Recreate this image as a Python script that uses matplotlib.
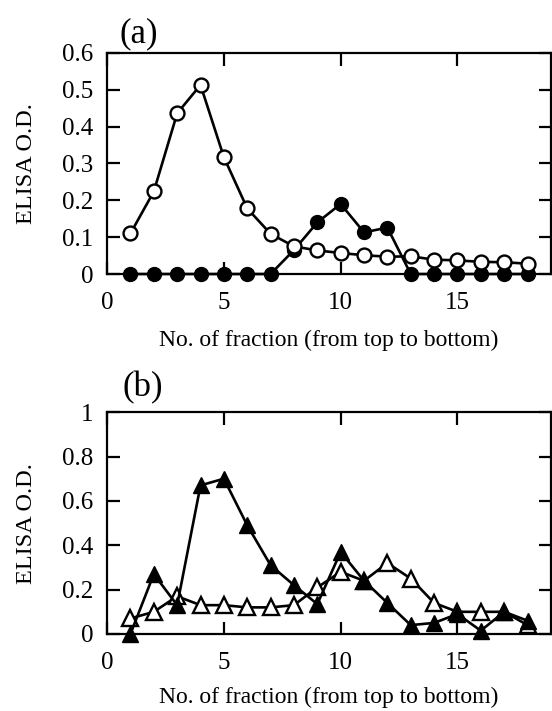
import matplotlib
matplotlib.use("Agg")
import matplotlib.pyplot as plt
import numpy as np
from matplotlib.ticker import FuncFormatter

plt.rcParams['font.family'] = ['Liberation Serif', 'DejaVu Serif']

fraction = np.arange(1, 19)

# panel (a)
open_circles = [0.11, 0.224, 0.436, 0.513, 0.317, 0.178, 0.109, 0.075, 0.064,
                0.057, 0.051, 0.047, 0.048, 0.039, 0.037, 0.033, 0.032, 0.028]
filled_circles = [0, 0, 0, 0, 0, 0, 0, 0.065, 0.14, 0.19, 0.113, 0.126,
                  0, 0, 0, 0, 0, 0]

# panel (b)
filled_triangles = [0.0, 0.27, 0.13, 0.67, 0.70, 0.49, 0.31, 0.22, 0.135,
                    0.37, 0.24, 0.14, 0.04, 0.05, 0.09, 0.015, 0.10, 0.06]
open_triangles = [0.07, 0.10, 0.17, 0.13, 0.13, 0.12, 0.12, 0.13, 0.21,
                  0.28, 0.24, 0.32, 0.25, 0.14, 0.10, 0.10, 0.10, 0.04]

xticks = [0, 5, 10, 15]
yticks_a = [0, 0.1, 0.2, 0.3, 0.4, 0.5, 0.6]
yticks_b = [0, 0.2, 0.4, 0.6, 0.8, 1.0]


def fmt(v, pos):
    if abs(v) < 1e-9:
        return "0"
    if abs(v - round(v)) < 1e-9:
        return "%d" % round(v)
    return ("%.1f" % v)


def style(ax, yticks, ymax, xlabelpad):
    ax.set_xlim(0, 19)
    ax.set_ylim(0, ymax)
    ax.set_xticks(xticks)
    ax.set_yticks(yticks)
    ax.yaxis.set_major_formatter(FuncFormatter(fmt))
    ax.tick_params(direction='in', length=9, width=1.6, top=True, right=True,
                   labelsize=18)
    ax.tick_params(axis='x', pad=13)
    ax.tick_params(axis='y', pad=10)
    for s in ax.spines.values():
        s.set_linewidth(1.6)
    ax.set_ylabel("ELISA O.D.", fontsize=17.5, labelpad=18)
    ax.set_xlabel("No. of fraction (from top to bottom)", fontsize=17,
                  labelpad=xlabelpad)


fig = plt.figure(figsize=(5.52, 7.11), dpi=100)
ax1 = fig.add_axes([0.194, 0.6146, 0.804, 0.311])
ax2 = fig.add_axes([0.194, 0.1083, 0.804, 0.312])

ax1.plot(fraction, filled_circles, '-o', color='black', lw=1.9, ms=10,
         mfc='black', mec='black', clip_on=False, zorder=3)
ax1.plot(fraction, open_circles, '-o', color='black', lw=1.9, ms=10,
         mfc='white', mec='black', mew=1.7, clip_on=False, zorder=4)
style(ax1, yticks_a, 0.6, 11)

ax2.plot(fraction, open_triangles, '-^', color='black', lw=1.9, ms=12,
         mfc='white', mec='black', mew=1.7, clip_on=False, zorder=3)
ax2.plot(fraction, filled_triangles, '-^', color='black', lw=1.9, ms=12,
         mfc='black', mec='black', clip_on=False, zorder=4)
style(ax2, yticks_b, 1.0, 9)

fig.text(0.252, 0.975, "(a)", fontsize=25, ha='center', va='top')
fig.text(0.258, 0.478, "(b)", fontsize=25, ha='center', va='top')

fig.savefig("out.png", dpi=100)
